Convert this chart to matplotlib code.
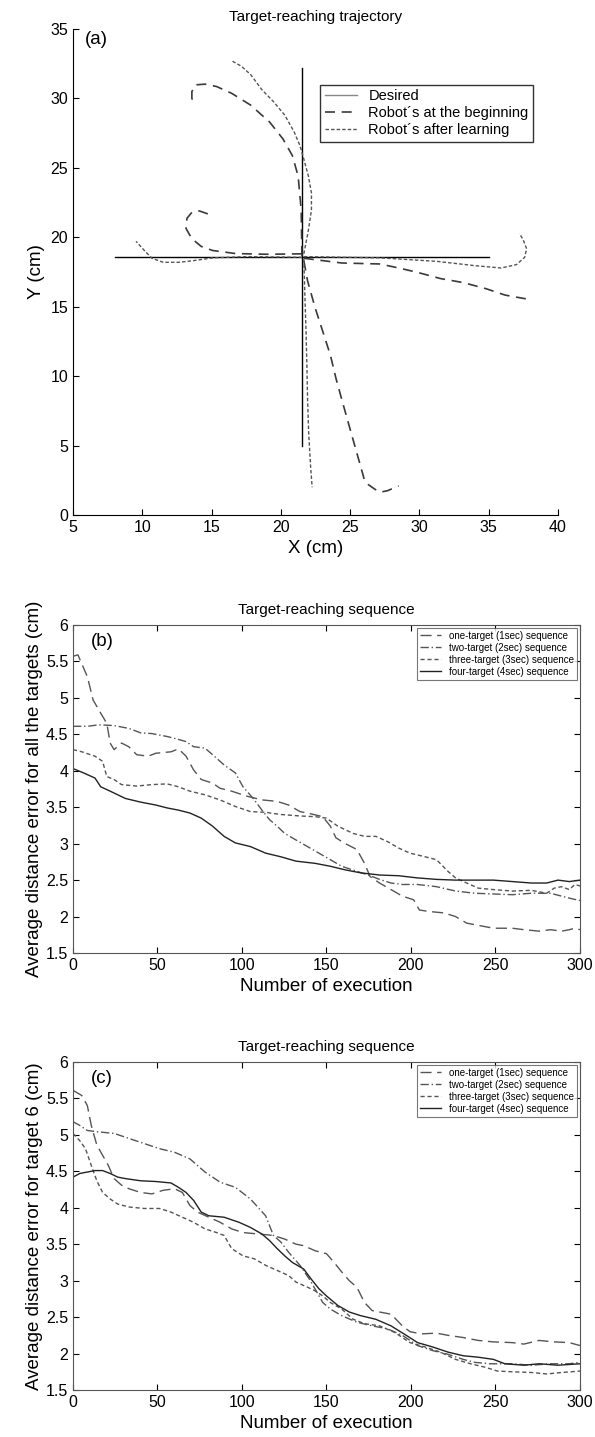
import numpy as np
import matplotlib
matplotlib.use("Agg")
import matplotlib.pyplot as plt

plt.rcParams['font.family'] = ['Liberation Sans', 'DejaVu Sans']

# ---- panel (a): trajectories ----
center = (21.5, 18.6)
targets_x = [8.0, 35.0, 21.5, 21.5]
targets_y = [18.6, 18.6, 32.2, 5.0]

beg_up_x = [21.52, 21.47, 21.25, 20.84, 20.15, 19.19, 17.82, 16.45, 15.36, 14.53, 13.85, 13.58, 13.58, 13.85]
beg_up_y = [18.66, 21.97, 24.4, 25.87, 27.09, 28.3, 29.52, 30.37, 30.86, 31.03, 30.98, 30.5, 30.0, 29.52]
beg_left_x = [21.52, 18.92, 16.73, 15.08, 14.26, 13.58, 13.16, 13.22, 13.58, 14.12, 14.75]
beg_left_y = [18.81, 18.78, 18.83, 19.05, 19.34, 19.9, 20.63, 21.36, 21.8, 21.9, 21.68]
beg_right_x = [21.66, 24.4, 27.14, 28.51, 29.88, 31.52, 33.16, 34.81, 36.18, 37.68]
beg_right_y = [18.49, 18.15, 18.08, 17.79, 17.47, 17.03, 16.74, 16.3, 15.84, 15.57]
beg_down_x = [21.66, 21.93, 22.48, 23.03, 23.58, 23.99, 24.53, 25.08, 25.63, 26.04, 26.3, 26.8, 27.2, 27.7, 28.5]
beg_down_y = [18.32, 16.86, 14.91, 13.21, 11.5, 9.8, 7.85, 5.9, 3.96, 2.5, 2.2, 1.85, 1.65, 1.75, 2.1]

aft_up_x = [21.66, 21.99, 22.21, 22.21, 21.99, 21.66, 21.38, 20.97, 20.29, 19.47, 18.64, 17.82, 17.14, 16.4]
aft_up_y = [18.81, 20.51, 21.97, 23.19, 24.41, 25.63, 26.6, 27.57, 28.79, 29.77, 30.62, 31.72, 32.33, 32.74]
aft_left_x = [21.52, 17.55, 15.08, 13.71, 12.62, 11.52, 10.7, 10.15, 9.55]
aft_left_y = [18.56, 18.61, 18.52, 18.32, 18.2, 18.2, 18.49, 19.05, 19.71]
aft_right_x = [21.66, 27.14, 31.25, 33.99, 35.9, 37.0, 37.6, 37.74, 37.49, 37.22]
aft_right_y = [18.61, 18.52, 18.27, 17.96, 17.79, 18.03, 18.56, 19.17, 19.83, 20.27]
aft_down_x = [21.66, 21.74, 21.82, 21.88, 21.93, 22.01, 22.15, 22.26]
aft_down_y = [18.44, 15.64, 13.21, 10.77, 8.34, 5.9, 3.47, 2.0]

# ---- panel (b): average error, all targets ----
b1_x = [0, 2.9, 8.5, 11.9, 16.4, 20, 22, 24.3, 28.7, 33, 37.7, 44.5, 49, 58, 62.4, 66.9, 71.4, 75.9, 82.6, 87, 93.9, 103, 112, 120.8, 127.6, 134.3, 138.8, 147.8, 152.3, 155.6, 161.2, 168, 172.5, 175.8, 181.4, 188.2, 194.9, 201.6, 205, 210.6, 219.6, 226.4, 233, 242, 248.8, 260, 266.8, 275.8, 282.5, 289.2, 293.7, 297, 300]
b1_y = [5.57, 5.59, 5.29, 4.97, 4.79, 4.65, 4.38, 4.29, 4.38, 4.33, 4.22, 4.2, 4.24, 4.26, 4.3, 4.2, 4.01, 3.88, 3.83, 3.76, 3.72, 3.65, 3.6, 3.58, 3.53, 3.44, 3.42, 3.37, 3.24, 3.08, 3.0, 2.92, 2.73, 2.55, 2.46, 2.37, 2.28, 2.23, 2.09, 2.07, 2.05, 2.0, 1.91, 1.87, 1.84, 1.84, 1.82, 1.8, 1.82, 1.8, 1.82, 1.84, 1.82]
b2_x = [0, 8.5, 15.3, 24.3, 33.2, 40, 46.7, 55.7, 62.4, 66.9, 71.4, 78.1, 82.6, 89.4, 96.1, 100.6, 104, 107.3, 111.8, 116.3, 120.8, 125.3, 132, 138.8, 145.5, 152.3, 159, 168, 174.7, 181.4, 188.2, 194.9, 203.9, 215.1, 226.4, 237.6, 248.8, 260, 271.3, 282.5, 289.2, 296, 300]
b2_y = [4.61, 4.61, 4.63, 4.62, 4.58, 4.52, 4.51, 4.47, 4.43, 4.4, 4.33, 4.31, 4.22, 4.08, 3.97, 3.78, 3.69, 3.6, 3.46, 3.33, 3.24, 3.14, 3.05, 2.96, 2.87, 2.78, 2.69, 2.62, 2.57, 2.51, 2.46, 2.44, 2.44, 2.41, 2.35, 2.32, 2.31, 2.3, 2.32, 2.32, 2.28, 2.24, 2.22]
b3_x = [0, 5.2, 13, 17.5, 20, 24.3, 28.7, 37.7, 46.7, 55.7, 62.4, 69.2, 78.1, 87, 96.1, 105, 114, 123, 134.3, 143.3, 150, 156.7, 165.8, 172.5, 179.2, 186, 192.7, 199.4, 208.4, 215.1, 221.9, 226.4, 233, 239.8, 248.8, 260, 271.3, 280.3, 284.8, 289.2, 293.7, 297, 300]
b3_y = [4.29, 4.26, 4.2, 4.13, 3.92, 3.88, 3.81, 3.79, 3.81, 3.82, 3.78, 3.72, 3.67, 3.6, 3.51, 3.44, 3.43, 3.4, 3.38, 3.37, 3.35, 3.24, 3.14, 3.1, 3.1, 3.03, 2.94, 2.87, 2.82, 2.78, 2.62, 2.53, 2.46, 2.39, 2.37, 2.35, 2.36, 2.32, 2.39, 2.41, 2.37, 2.44, 2.42]
b4_x = [0, 6.3, 13, 16.4, 22, 31, 40, 49, 55.7, 62.4, 69.2, 75.9, 82.6, 89.4, 96.1, 105, 114, 123, 132, 143.3, 152.3, 161.2, 170.2, 181.4, 192.7, 203.9, 215.1, 226.4, 248.8, 260, 271.3, 280.3, 287, 293.7, 300]
b4_y = [4.03, 3.97, 3.9, 3.78, 3.72, 3.62, 3.57, 3.53, 3.49, 3.46, 3.42, 3.35, 3.24, 3.1, 3.01, 2.96, 2.87, 2.82, 2.76, 2.73, 2.69, 2.64, 2.6, 2.57, 2.56, 2.53, 2.51, 2.5, 2.5, 2.48, 2.46, 2.46, 2.5, 2.48, 2.5]

# ---- panel (c): average error, target 6 ----
c1_x = [0, 5.2, 8.5, 10.8, 14.1, 17.5, 20.9, 24.3, 28.7, 33.2, 40, 46.7, 53.4, 60.2, 64.7, 69.2, 73.7, 80.4, 87.1, 93.9, 100.6, 109.6, 118.6, 125.3, 132, 136.5, 143.3, 150, 154.5, 159, 163.5, 168, 172.5, 177, 181.4, 188.2, 194.9, 199.4, 206.2, 215.1, 221.9, 230.9, 239.8, 248.8, 260, 266.8, 275.8, 284.8, 293.7, 300]
c1_y = [5.61, 5.54, 5.4, 5.13, 4.86, 4.72, 4.58, 4.4, 4.31, 4.26, 4.21, 4.19, 4.24, 4.26, 4.21, 4.03, 3.94, 3.87, 3.8, 3.71, 3.66, 3.64, 3.62, 3.57, 3.5, 3.48, 3.41, 3.37, 3.25, 3.12, 3.0, 2.91, 2.7, 2.59, 2.57, 2.54, 2.38, 2.3, 2.27, 2.28, 2.25, 2.22, 2.18, 2.16, 2.15, 2.13, 2.18, 2.16, 2.15, 2.11]
c2_x = [0, 4, 8.5, 15.3, 24.3, 33.2, 42.2, 51.2, 60.2, 69.2, 78.1, 87.1, 96.1, 105, 114, 118.6, 123, 127.6, 134.3, 139.9, 144.4, 147.8, 152.3, 159, 168, 177, 186, 194.9, 203.9, 212.9, 221.9, 230.9, 237.6, 246.6, 260, 271.3, 282.5, 293.7, 300]
c2_y = [5.18, 5.13, 5.06, 5.04, 5.02, 4.95, 4.88, 4.81, 4.76, 4.67, 4.49, 4.35, 4.28, 4.12, 3.89, 3.62, 3.53, 3.39, 3.21, 3.02, 2.84, 2.7, 2.61, 2.52, 2.43, 2.38, 2.34, 2.25, 2.11, 2.04, 1.99, 1.92, 1.88, 1.86, 1.86, 1.84, 1.86, 1.86, 1.88]
c3_x = [0, 4, 7.4, 10.8, 14.1, 17.5, 22, 26.5, 33.2, 42.2, 51.2, 58, 64.7, 71.4, 78.1, 84.9, 89.4, 93.9, 100.6, 107.3, 114, 120.8, 127.6, 132, 138.8, 143.3, 147.8, 152.3, 159, 165.8, 172.5, 181.4, 190.4, 199.4, 208.4, 217.4, 226.4, 235.3, 244.3, 251.1, 260, 271.3, 280.3, 289.2, 300]
c3_y = [5.02, 4.92, 4.81, 4.58, 4.37, 4.21, 4.12, 4.05, 4.01, 3.99, 3.99, 3.94, 3.87, 3.8, 3.71, 3.66, 3.62, 3.44, 3.34, 3.3, 3.21, 3.14, 3.07, 2.98, 2.91, 2.86, 2.79, 2.7, 2.61, 2.47, 2.41, 2.38, 2.29, 2.15, 2.09, 2.02, 1.92, 1.86, 1.81, 1.76, 1.75, 1.74, 1.72, 1.74, 1.76]
c4_x = [0, 4, 8.5, 13, 17.5, 22, 26.5, 31, 40, 49, 58, 62.4, 66.9, 71.4, 75.9, 80.4, 89.4, 98.3, 105, 111.8, 116.3, 120.8, 125.3, 129.8, 136.5, 141, 145.5, 150, 156.7, 163.5, 170.2, 179.2, 188.2, 197.2, 203.9, 212.9, 221.9, 230.9, 239.8, 248.8, 255.6, 266.8, 275.8, 287, 300]
c4_y = [4.42, 4.47, 4.49, 4.51, 4.51, 4.47, 4.42, 4.4, 4.37, 4.36, 4.34, 4.28, 4.21, 4.1, 3.94, 3.89, 3.87, 3.8, 3.73, 3.64, 3.55, 3.44, 3.34, 3.25, 3.16, 3.02, 2.89, 2.79, 2.66, 2.57, 2.52, 2.47, 2.38, 2.25, 2.15, 2.09, 2.02, 1.97, 1.95, 1.92, 1.86, 1.84, 1.86, 1.84, 1.86]

seq_labels = ['one-target (1sec) sequence', 'two-target (2sec) sequence',
              'three-target (3sec) sequence', 'four-target (4sec) sequence']
seq_dashes = [(8, 4), (6, 2, 1, 2), (3, 2), None]

line_col = '#3a3a3a'

fig = plt.figure(figsize=(5.95, 14.37), dpi=100)

# panel (a)
ax = fig.add_axes([0.1227, 0.6416, 0.815, 0.3382])
for tx, ty in zip(targets_x, targets_y):
    ax.plot([center[0], tx], [center[1], ty], color='black', lw=1.0)
beg = [(beg_up_x, beg_up_y), (beg_left_x, beg_left_y), (beg_right_x, beg_right_y), (beg_down_x, beg_down_y)]
aft = [(aft_up_x, aft_up_y), (aft_left_x, aft_left_y), (aft_right_x, aft_right_y), (aft_down_x, aft_down_y)]
for xs, ys in beg:
    ax.plot(xs, ys, color=line_col, lw=1.2, dashes=(6, 4))
for xs, ys in aft:
    ax.plot(xs, ys, color='#555555', lw=1.0, dashes=(2.5, 1.5))
ax.set_xlim(5, 40)
ax.set_ylim(0, 35)
ax.set_xticks(range(5, 41, 5))
ax.set_yticks(range(0, 36, 5))
ax.spines['top'].set_visible(False)
ax.spines['right'].set_visible(False)
ax.tick_params(direction='in', length=4, labelsize=11.5)
ax.set_xlabel('X (cm)', fontsize=13.5)
ax.set_ylabel('Y (cm)', fontsize=13.5)
ax.set_title('Target-reaching trajectory', fontsize=11, pad=6)
ax.text(0.025, 0.995, '(a)', transform=ax.transAxes, fontsize=13.5, va='top')
h1, = ax.plot([], [], color='#888888', lw=1.0, label='Desired')
h2, = ax.plot([], [], color=line_col, lw=1.2, dashes=(6, 4), label='Robot´s at the beginning')
h3, = ax.plot([], [], color='#555555', lw=1.0, dashes=(2.5, 1.5), label='Robot´s after learning')
leg = ax.legend(handles=[h1, h2, h3], loc='upper left', bbox_to_anchor=(0.495, 0.9),
                fontsize=10.5, frameon=True, fancybox=False, borderpad=0.3,
                labelspacing=0.2, handlelength=2.2, edgecolor='black')
leg.get_frame().set_linewidth(1.0)


def seq_panel(rect, xs_list, ys_list, ylabel, tag):
    ax = fig.add_axes(rect)
    hs = []
    for xs, ys, lab, d in zip(xs_list, ys_list, seq_labels, seq_dashes):
        if d is None:
            h, = ax.plot(xs, ys, color='#222222', lw=1.0, label=lab)
        else:
            h, = ax.plot(xs, ys, color='#555555', lw=1.0, dashes=d, label=lab)
        hs.append(h)
    ax.set_xlim(0, 300)
    ax.set_ylim(1.5, 6)
    ax.set_xticks(range(0, 301, 50))
    ax.set_yticks(np.arange(1.5, 6.01, 0.5))
    ax.set_yticklabels(['1.5', '2', '2.5', '3', '3.5', '4', '4.5', '5', '5.5', '6'])
    ax.tick_params(direction='in', length=4, labelsize=11.5, top=True, right=True)
    for s in ax.spines.values():
        s.set_color('#555555')
    ax.set_xlabel('Number of execution', fontsize=13.5)
    ax.set_ylabel(ylabel, fontsize=13.5, labelpad=2)
    ax.set_title('Target-reaching sequence', fontsize=11, pad=8)
    ax.text(0.035, 0.975, tag, transform=ax.transAxes, fontsize=13.5, va='top')
    leg = ax.legend(handles=hs, loc='upper right', fontsize=7, frameon=True,
                    fancybox=False, borderpad=0.3, labelspacing=0.2,
                    handlelength=2.2, borderaxespad=0.3, edgecolor='#555555')
    leg.get_frame().set_linewidth(0.8)
    return ax


seq_panel([0.1227, 0.3368, 0.852, 0.2283], [b1_x, b2_x, b3_x, b4_x], [b1_y, b2_y, b3_y, b4_y],
          'Average distance error for all the targets (cm)', '(b)')
seq_panel([0.1227, 0.0327, 0.852, 0.2283], [c1_x, c2_x, c3_x, c4_x], [c1_y, c2_y, c3_y, c4_y],
          'Average distance error for target 6 (cm)', '(c)')

fig.savefig('out.png', dpi=100)
